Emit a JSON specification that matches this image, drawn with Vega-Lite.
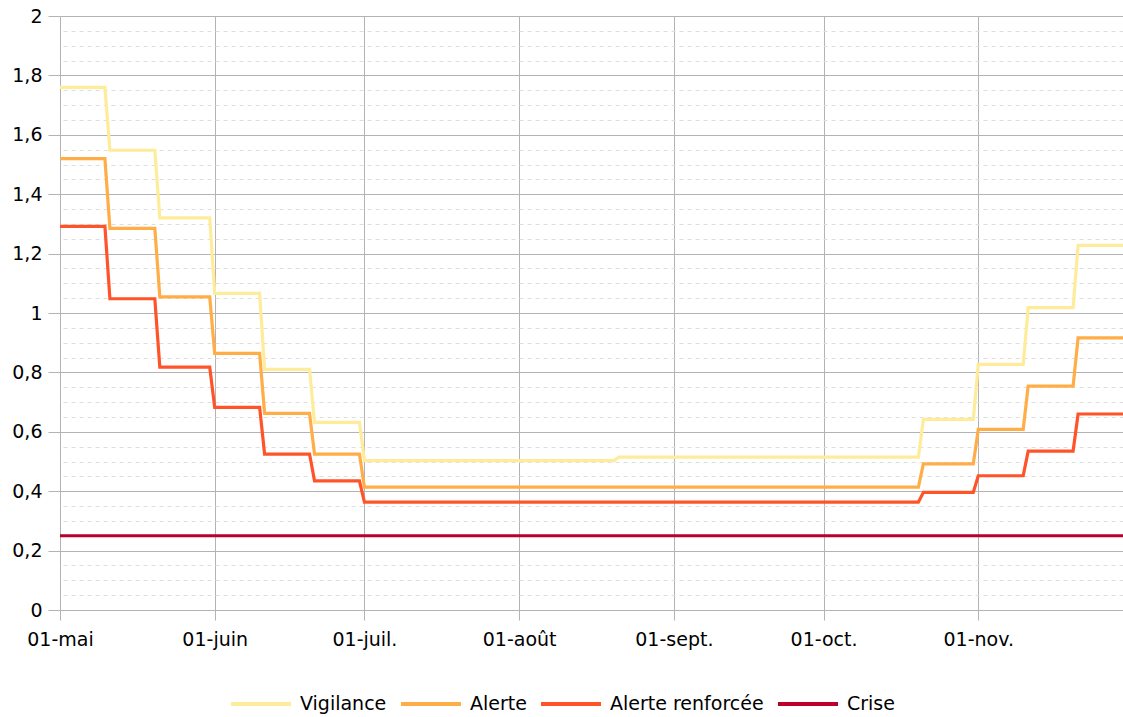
{
  "$schema": "https://vega.github.io/schema/vega-lite/v6.json",
  "width": 1063,
  "height": 594,
  "autosize": {"type": "none"},
  "padding": {"left": 60, "top": 16, "right": 0, "bottom": 107},
  "background": "white",
  "config": {
    "view": {"stroke": null},
    "font": "DejaVu Sans",
    "axis": {"labelFont": "DejaVu Sans", "labelFontSize": 19, "labelColor": "#000000", "title": null}
  },
  "data": {
    "values": [
      {"date": "2023-05-01", "serie": "Vigilance", "v": 1.76},
      {"date": "2023-05-10", "serie": "Vigilance", "v": 1.76},
      {"date": "2023-05-11", "serie": "Vigilance", "v": 1.548},
      {"date": "2023-05-20", "serie": "Vigilance", "v": 1.548},
      {"date": "2023-05-21", "serie": "Vigilance", "v": 1.32},
      {"date": "2023-05-31", "serie": "Vigilance", "v": 1.32},
      {"date": "2023-06-01", "serie": "Vigilance", "v": 1.066},
      {"date": "2023-06-10", "serie": "Vigilance", "v": 1.066},
      {"date": "2023-06-11", "serie": "Vigilance", "v": 0.81},
      {"date": "2023-06-20", "serie": "Vigilance", "v": 0.81},
      {"date": "2023-06-21", "serie": "Vigilance", "v": 0.632},
      {"date": "2023-06-30", "serie": "Vigilance", "v": 0.632},
      {"date": "2023-07-01", "serie": "Vigilance", "v": 0.503},
      {"date": "2023-08-20", "serie": "Vigilance", "v": 0.503},
      {"date": "2023-08-21", "serie": "Vigilance", "v": 0.515},
      {"date": "2023-10-20", "serie": "Vigilance", "v": 0.515},
      {"date": "2023-10-21", "serie": "Vigilance", "v": 0.642},
      {"date": "2023-10-31", "serie": "Vigilance", "v": 0.642},
      {"date": "2023-11-01", "serie": "Vigilance", "v": 0.827},
      {"date": "2023-11-10", "serie": "Vigilance", "v": 0.827},
      {"date": "2023-11-11", "serie": "Vigilance", "v": 1.018},
      {"date": "2023-11-20", "serie": "Vigilance", "v": 1.018},
      {"date": "2023-11-21", "serie": "Vigilance", "v": 1.228},
      {"date": "2023-11-30", "serie": "Vigilance", "v": 1.228},

      {"date": "2023-05-01", "serie": "Alerte", "v": 1.52},
      {"date": "2023-05-10", "serie": "Alerte", "v": 1.52},
      {"date": "2023-05-11", "serie": "Alerte", "v": 1.285},
      {"date": "2023-05-20", "serie": "Alerte", "v": 1.285},
      {"date": "2023-05-21", "serie": "Alerte", "v": 1.054},
      {"date": "2023-05-31", "serie": "Alerte", "v": 1.054},
      {"date": "2023-06-01", "serie": "Alerte", "v": 0.864},
      {"date": "2023-06-10", "serie": "Alerte", "v": 0.864},
      {"date": "2023-06-11", "serie": "Alerte", "v": 0.662},
      {"date": "2023-06-20", "serie": "Alerte", "v": 0.662},
      {"date": "2023-06-21", "serie": "Alerte", "v": 0.525},
      {"date": "2023-06-30", "serie": "Alerte", "v": 0.525},
      {"date": "2023-07-01", "serie": "Alerte", "v": 0.414},
      {"date": "2023-10-20", "serie": "Alerte", "v": 0.414},
      {"date": "2023-10-21", "serie": "Alerte", "v": 0.492},
      {"date": "2023-10-31", "serie": "Alerte", "v": 0.492},
      {"date": "2023-11-01", "serie": "Alerte", "v": 0.608},
      {"date": "2023-11-10", "serie": "Alerte", "v": 0.608},
      {"date": "2023-11-11", "serie": "Alerte", "v": 0.754},
      {"date": "2023-11-20", "serie": "Alerte", "v": 0.754},
      {"date": "2023-11-21", "serie": "Alerte", "v": 0.916},
      {"date": "2023-11-30", "serie": "Alerte", "v": 0.916},

      {"date": "2023-05-01", "serie": "Alerte renforcée", "v": 1.292},
      {"date": "2023-05-10", "serie": "Alerte renforcée", "v": 1.292},
      {"date": "2023-05-11", "serie": "Alerte renforcée", "v": 1.048},
      {"date": "2023-05-20", "serie": "Alerte renforcée", "v": 1.048},
      {"date": "2023-05-21", "serie": "Alerte renforcée", "v": 0.818},
      {"date": "2023-05-31", "serie": "Alerte renforcée", "v": 0.818},
      {"date": "2023-06-01", "serie": "Alerte renforcée", "v": 0.682},
      {"date": "2023-06-10", "serie": "Alerte renforcée", "v": 0.682},
      {"date": "2023-06-11", "serie": "Alerte renforcée", "v": 0.525},
      {"date": "2023-06-20", "serie": "Alerte renforcée", "v": 0.525},
      {"date": "2023-06-21", "serie": "Alerte renforcée", "v": 0.435},
      {"date": "2023-06-30", "serie": "Alerte renforcée", "v": 0.435},
      {"date": "2023-07-01", "serie": "Alerte renforcée", "v": 0.363},
      {"date": "2023-10-20", "serie": "Alerte renforcée", "v": 0.363},
      {"date": "2023-10-21", "serie": "Alerte renforcée", "v": 0.396},
      {"date": "2023-10-31", "serie": "Alerte renforcée", "v": 0.396},
      {"date": "2023-11-01", "serie": "Alerte renforcée", "v": 0.452},
      {"date": "2023-11-10", "serie": "Alerte renforcée", "v": 0.452},
      {"date": "2023-11-11", "serie": "Alerte renforcée", "v": 0.535},
      {"date": "2023-11-20", "serie": "Alerte renforcée", "v": 0.535},
      {"date": "2023-11-21", "serie": "Alerte renforcée", "v": 0.66},
      {"date": "2023-11-30", "serie": "Alerte renforcée", "v": 0.66},

      {"date": "2023-05-01", "serie": "Crise", "v": 0.25},
      {"date": "2023-11-30", "serie": "Crise", "v": 0.25}
    ]
  },
  "encoding": {
    "x": {
      "field": "date",
      "type": "temporal",
      "scale": {
        "type": "utc",
        "domain": [
          {"year": 2023, "month": 5, "date": 1, "utc": true},
          {"year": 2023, "month": 11, "date": 30, "utc": true}
        ]
      },
      "axis": {
        "values": [
          {"year": 2023, "month": 5, "date": 1, "utc": true},
          {"year": 2023, "month": 6, "date": 1, "utc": true},
          {"year": 2023, "month": 7, "date": 1, "utc": true},
          {"year": 2023, "month": 8, "date": 1, "utc": true},
          {"year": 2023, "month": 9, "date": 1, "utc": true},
          {"year": 2023, "month": 10, "date": 1, "utc": true},
          {"year": 2023, "month": 11, "date": 1, "utc": true}
        ],
        "labelExpr": "['01-mai','01-juin','01-juil.','01-août','01-sept.','01-oct.','01-nov.'][utcmonth(datum.value)-4]",
        "grid": true,
        "gridColor": "#b3b3b3",
        "gridWidth": 1,
        "tickColor": "#b3b3b3",
        "tickSize": 10,
        "domain": false,
        "labelPadding": 10,
        "labelAlign": "center",
        "labelFlush": false,
        "labelOverlap": false
      }
    }
  },
  "layer": [
    {
      "mark": {"type": "line", "opacity": 0},
      "encoding": {
        "y": {
          "field": "v",
          "type": "quantitative",
          "scale": {"domain": [0, 2], "nice": false, "zero": true},
          "axis": {
            "orient": "right",
            "values": [0.05, 0.1, 0.15, 0.25, 0.3, 0.35, 0.45, 0.5, 0.55, 0.65, 0.7, 0.75, 0.85, 0.9, 0.95, 1.05, 1.1, 1.15, 1.25, 1.3, 1.35, 1.45, 1.5, 1.55, 1.65, 1.7, 1.75, 1.85, 1.9, 1.95],
            "grid": true,
            "gridColor": "#dddddd",
            "gridDash": [4, 4],
            "gridWidth": 1,
            "labels": false,
            "ticks": false,
            "domain": false,
            "title": null
          }
        },
        "detail": {"field": "serie"}
      }
    },
    {
      "mark": {"type": "line", "strokeWidth": 3.2, "interpolate": "linear"},
      "encoding": {
        "y": {
          "field": "v",
          "type": "quantitative",
          "scale": {"domain": [0, 2], "nice": false, "zero": true},
          "axis": {
            "orient": "left",
            "values": [0, 0.2, 0.4, 0.6, 0.8, 1, 1.2, 1.4, 1.6, 1.8, 2],
            "format": ".1~f",
            "labelExpr": "replace(datum.label, '.', ',')",
            "grid": true,
            "gridColor": "#b3b3b3",
            "gridWidth": 1,
            "tickColor": "#b3b3b3",
            "tickSize": 12,
            "labelPadding": 6,
            "domain": false,
            "title": null
          }
        },
        "color": {
          "field": "serie",
          "type": "nominal",
          "sort": ["Vigilance", "Alerte", "Alerte renforcée", "Crise"],
          "scale": {
            "domain": ["Vigilance", "Alerte", "Alerte renforcée", "Crise"],
            "range": ["#ffec9a", "#ffad47", "#ff5429", "#b8002b"]
          },
          "legend": {
            "orient": "none",
            "legendX": 169,
            "legendY": 656,
            "direction": "horizontal",
            "title": null,
            "symbolType": "stroke",
            "symbolSize": 3600,
            "symbolStrokeWidth": 4,
            "labelFont": "DejaVu Sans",
            "labelFontSize": 19,
            "labelColor": "#000000",
            "labelOffset": 7,
            "columnPadding": 6,
            "padding": 0
          }
        }
      }
    }
  ],
  "resolve": {"axis": {"y": "independent"}}
}
